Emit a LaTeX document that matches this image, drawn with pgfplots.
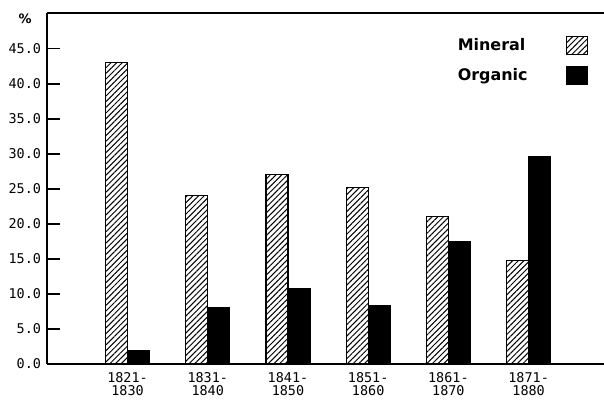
\documentclass[border=0pt]{standalone}
\usepackage{pgfplots}
\pgfplotsset{compat=1.18}
\usepackage{fontspec}
\setmainfont{DejaVu Sans Mono}
\newfontfamily\legfont{DejaVu Sans}
\usetikzlibrary{patterns.meta}
\begin{document}
\begin{tikzpicture}
\path[use as bounding box] (0,0) rectangle (604bp,400bp);
\begin{axis}[
  at={(47bp,36bp)}, anchor=south west,
  scale only axis, width=557bp, height=351bp,
  clip=false,
  xmin=-1.004, xmax=5.94, ymin=0, ymax=50.1,
  axis x line=bottom, axis y line=left,
  axis line style={-, line width=2bp},
  ytick={0,5,...,45},
  y tick label style={font=\fontsize{13.5}{14.5}\selectfont, xshift=-2.5bp},
  /pgf/number format/fixed, /pgf/number format/fixed zerofill, /pgf/number format/precision=1,
  /pgf/number format/assume math mode=true,
  tick align=inside, major tick length=13bp,
  tick style={line width=1.5bp, black},
  xtick={0,1,2,3,4,5},
  xticklabels={{1821-\\1830},{1831-\\1840},{1841-\\1850},{1851-\\1860},{1861-\\1870},{1871-\\1880}},
  x tick label style={align=center, font=\fontsize{13.5}{13.5}\selectfont, yshift=-4.5bp},
  x tick style={draw=none},
  legend plot pos=right,
  legend style={draw=none, fill=none, at={(rel axis cs:0.971,0.935)}, anchor=north east,
    inner sep=0pt, font=\legfont\bfseries\fontsize{16}{17}\selectfont,
    /tikz/column sep=36bp, /tikz/row sep=11bp},
  legend cell align=left,
  legend image code/.code={\draw[#1, line width=1bp] (0bp,-9bp) rectangle (21bp,9bp);},
]
\addplot[ybar, bar width=0.274, bar shift=-0.137, draw=black, line width=1.2bp,
  pattern={Lines[angle=45, distance=4bp, line width=1bp]}]
  coordinates {(0,43.0) (1,24.0) (2,27.0) (3,25.2) (4,21.0) (5,14.8)};
\addlegendentry{Mineral}
\addplot[ybar, bar width=0.274, bar shift=0.137, draw=black, fill=black, line width=1.2bp]
  coordinates {(0,1.9) (1,8.0) (2,10.8) (3,8.4) (4,17.4) (5,29.6)};
\addlegendentry{Organic}
\draw[line width=2bp] (rel axis cs:0,1) -- (rel axis cs:1,1);
\node[font=\legfont\bfseries\fontsize{13}{14}\selectfont] at (rel axis cs:0,1) [xshift=-22bp, yshift=-6bp] {\%};
\end{axis}
\end{tikzpicture}
\end{document}
